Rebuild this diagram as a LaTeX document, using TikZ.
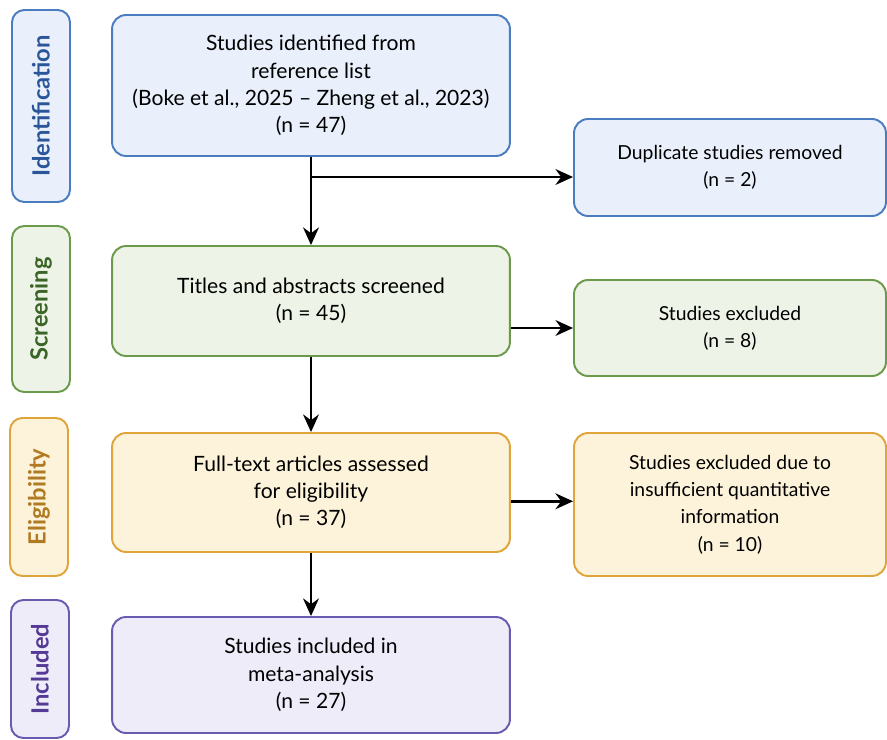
\documentclass[tikz,border=0pt]{standalone}
\usepackage{fontspec}
\setmainfont{Lato}
\usetikzlibrary{arrows.meta, positioning}

\definecolor{idline}{HTML}{4A7CC0}
\definecolor{idfill}{HTML}{E9F0FB}
\definecolor{idtext}{HTML}{2A5599}
\definecolor{scline}{HTML}{6A9A4A}
\definecolor{scfill}{HTML}{EEF3E7}
\definecolor{sctext}{HTML}{3A6526}
\definecolor{elline}{HTML}{E0A53A}
\definecolor{elfill}{HTML}{FDF3DA}
\definecolor{eltext}{HTML}{B07A22}
\definecolor{inline}{HTML}{6A5AB0}
\definecolor{infill}{HTML}{EFECFA}
\definecolor{intext}{HTML}{553A95}

\tikzset{
    stagebox/.style={draw, line width=1.1pt, rounded corners=8pt, align=center,
        minimum width=7.96cm, font=\fontsize{12}{15.5}\selectfont},
    sidebox/.style={draw, line width=1.1pt, rounded corners=8pt, align=center,
        minimum width=6.24cm, font=\fontsize{11}{15.5}\selectfont},
    phase/.style={draw, line width=1.1pt, rounded corners=7pt, rotate=90,
        minimum height=1.16cm, font=\fontsize{13.5}{15}\selectfont\bfseries},
    flow/.style={-{Stealth[length=10pt, width=9pt]}, line width=1.4pt},
}

\begin{document}
\begin{tikzpicture}[x=0.02cm, y=-0.02cm]
    \useasboundingbox[fill=white] (0,0) rectangle (887,740);
    % phase labels on the left
    \node[phase, idline, fill=idfill, text=idtext, minimum width=3.84cm] (lid) at (41,106) {Identification};
    \node[phase, scline, fill=scfill, text=sctext, minimum width=3.32cm] (lsc) at (41,309) {Screening};
    \node[phase, elline, fill=elfill, text=eltext, minimum width=3.16cm] (lel) at (39,497) {Eligibility};
    \node[phase, inline, fill=infill, text=intext, minimum width=2.76cm] (lin) at (40,669) {Included};
    % main column
    \node[stagebox, idline, fill=idfill, text=black, minimum height=2.82cm] (ident) at (311,85.5)
        {Studies identified from\\ reference list\\ (Boke et al., 2025 -- Zheng et al., 2023)\\ (n = 47)};
    \node[stagebox, scline, fill=scfill, text=black, minimum height=2.2cm] (screen) at (311,301)
        {Titles and abstracts screened\\ (n = 45)};
    \node[stagebox, elline, fill=elfill, text=black, minimum height=2.38cm] (elig) at (311,492.5)
        {Full-text articles assessed\\ for eligibility\\ (n = 37)};
    \node[stagebox, inline, fill=infill, text=black, minimum height=2.32cm] (incl) at (311,675)
        {Studies included in\\ meta-analysis\\ (n = 27)};
    % excluded column
    \node[sidebox, idline, fill=idfill, text=black, minimum height=1.94cm] (dup) at (730,167.5)
        {Duplicate studies removed\\ (n = 2)};
    \node[sidebox, scline, fill=scfill, text=black, minimum height=1.92cm] (excl) at (730,328)
        {Studies excluded\\ (n = 8)};
    \node[sidebox, elline, fill=elfill, text=black, minimum height=2.86cm] (exclq) at (730,504.5)
        {Studies excluded due to\\ insufficient quantitative\\ information\\ (n = 10)};
    % connectors
    \coordinate (split) at (311,177);
    \draw[flow] (ident) -- (screen);
    \draw[flow] (split) -- (split -| dup.west);
    \draw[flow] (screen) -- (elig);
    \draw[flow] (screen.east |- excl.west) -- (excl.west);
    \draw[flow] (elig) -- (incl);
    \draw[flow] ([yshift=-5pt]elig.east) -- ([yshift=-5pt]elig.east -| exclq.west);
\end{tikzpicture}
\end{document}
